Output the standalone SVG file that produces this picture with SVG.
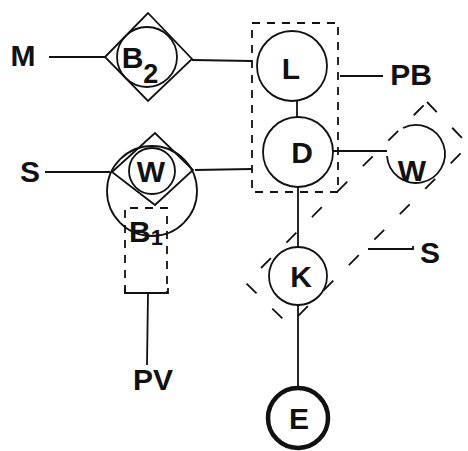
<svg xmlns="http://www.w3.org/2000/svg" width="468" height="451" viewBox="0 0 468 451">
<style>
.s{fill:none;stroke:#111;stroke-width:1.8}
.d{fill:none;stroke:#111;stroke-width:1.8;stroke-dasharray:8 7}
.d2{fill:none;stroke:#111;stroke-width:1.8;stroke-dasharray:14 22}
.t{font-family:"Liberation Sans",Arial,sans-serif;font-weight:bold;font-size:30px;fill:#111;text-anchor:middle}
</style>
<rect width="468" height="451" fill="#fff"/>
<g id="connectors">
<line class="s" x1="49" y1="57" x2="105" y2="57"/>
<line class="s" x1="192" y1="60" x2="252" y2="61"/>
<line class="s" x1="45" y1="172" x2="110" y2="172"/>
<line class="s" x1="195" y1="170" x2="252" y2="169"/>
<line class="s" x1="297" y1="101" x2="297" y2="117"/>
<line class="s" x1="340" y1="76" x2="383" y2="76"/>
<line class="s" x1="333" y1="151" x2="387" y2="151"/>
<line class="s" x1="298" y1="187" x2="298" y2="247"/>
<line class="s" x1="298" y1="305" x2="298" y2="388"/>
<line class="s" x1="148" y1="293" x2="147" y2="365"/>
<polyline class="s" points="368,249 413,249 413,246"/>
</g>
<g id="B2">
<polygon class="s" points="105,57 148,13 192,59 148,101"/>
<circle class="s" cx="147" cy="57" r="30"/>
<text class="t" x="140" y="68">B<tspan font-size="27" dy="15">2</tspan></text>
</g>
<g id="M"><text class="t" x="23" y="66" font-size="27">M</text></g>
<g id="group-LD"><rect class="d" x="252" y="23" width="86" height="169"/></g>
<g id="L">
<circle class="s" cx="292" cy="66" r="35"/>
<text class="t" x="291" y="79">L</text>
</g>
<g id="D">
<circle class="s" cx="298" cy="152" r="35"/>
<text class="t" x="302" y="163">D</text>
</g>
<g id="PB"><text class="t" x="411" y="85">PB</text></g>
<g id="W-right">
<path class="s" d="M403,128 A29,29 0 1 1 387,156"/>
<text class="t" x="412" y="181">W</text>
</g>
<g id="group-WK"><polygon class="d2" points="427,102 469,145 289,325 246,283"/></g>
<g id="S-right"><text class="t" x="430" y="263">S</text></g>
<g id="K">
<circle class="s" cx="298" cy="276" r="29"/>
<text class="t" x="301" y="287">K</text>
</g>
<g id="E">
<circle cx="298" cy="418" r="30" fill="none" stroke="#111" stroke-width="4.5"/>
<text class="t" x="299" y="429">E</text>
</g>
<g id="S-left"><text class="t" x="30" y="182">S</text></g>
<g id="W-left">
<circle class="s" cx="152" cy="191" r="45"/>
<polygon class="s" points="112,172 155,133 193,170 155,205"/>
<circle class="s" cx="152" cy="171" r="23"/>
<text class="t" x="151" y="182">W</text>
</g>
<g id="B1">
<path class="d" d="M125,293 V208 H167 V293"/>
<path class="s" d="M125,288 V293 H168 V288"/>
<text class="t" x="146" y="242">B<tspan font-size="22" dy="3">1</tspan></text>
</g>
<g id="PV"><text class="t" x="153" y="390">PV</text></g>
</svg>
